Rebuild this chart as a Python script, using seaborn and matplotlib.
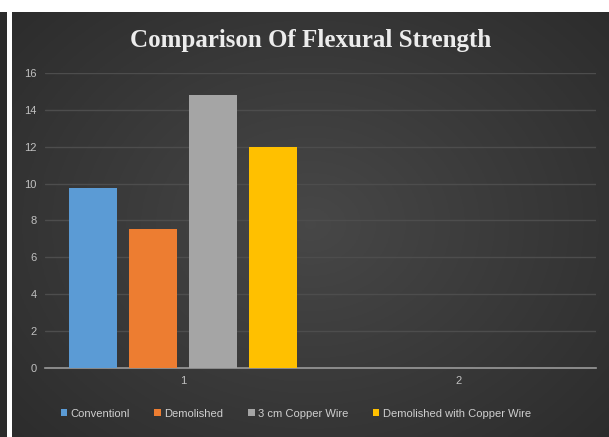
#!/usr/bin/env python3
"""Bar chart: comparison of flexural strength, dark Office-style theme."""

import numpy as np
import pandas as pd
import matplotlib
matplotlib.use("Agg")
import matplotlib.pyplot as plt
from matplotlib.patches import Rectangle
import seaborn as sns

# Data
groups = ["1", "2"]
series = ["Conventionl", "Demolished", "3 cm Copper Wire", "Demolished with Copper Wire"]
values_g1 = [9.75, 7.55, 14.8, 12.0]
values_g2 = [np.nan, np.nan, np.nan, np.nan]
colors = ["#5B9BD5", "#ED7D31", "#A5A5A5", "#FFC000"]
y_ticks = [0, 2, 4, 6, 8, 10, 12, 14, 16]

df = pd.DataFrame({
    "Group": [groups[0]] * 4 + [groups[1]] * 4,
    "Series": series * 2,
    "Strength": values_g1 + values_g2,
})

sns.set_theme(style="dark")
plt.rcParams["font.family"] = ["Liberation Sans Narrow", "Liberation Sans", "DejaVu Sans"]

W, H = 609, 437
fig = plt.figure(figsize=(W / 100, H / 100), dpi=100, facecolor="white")

# frame pieces: white top band, dark strip on the left
fig.patches.append(Rectangle((0, 0), 7 / W, 1 - 12 / H, transform=fig.transFigure,
                             facecolor="#2b2b2b", edgecolor="none", zorder=0))

# dark gradient background of the chart
bg = fig.add_axes([12 / W, 0, (W - 12) / W, (H - 12) / H], zorder=0)
xx, yy = np.meshgrid(np.linspace(-1, 1, 300), np.linspace(-1, 1, 220))
r = np.sqrt(xx ** 2 + (yy * 0.9) ** 2)
shade = 0.28 - 0.11 * np.clip(r, 0, 1.4) / 1.4
bg.imshow(np.dstack([shade] * 3), aspect="auto", extent=(0, 1, 0, 1))
bg.set_axis_off()

ax = fig.add_axes([45 / W, 1 - 368 / H, 551 / W, 295 / H], zorder=1)
ax.patch.set_alpha(0)

sns.barplot(data=df, x="Group", y="Strength", hue="Series", order=groups,
            hue_order=series, palette=colors, width=0.87, gap=0.2,
            errorbar=None, saturation=1, linewidth=0, edgecolor="none",
            ax=ax, zorder=3)

ax.set_ylim(0, 16)
ax.set_yticks(y_ticks)
ax.set_xlim(-0.5, 1.5)
ax.set_xlabel("")
ax.set_ylabel("")
ax.grid(axis="y", color="#4d4d4d", linewidth=1)
ax.grid(axis="x", visible=False)
for side in ["top", "right", "left"]:
    ax.spines[side].set_visible(False)
ax.spines["bottom"].set_color("#9a9a9a")
ax.spines["bottom"].set_linewidth(1.2)
ax.tick_params(axis="both", colors="#c0c0c0", labelsize=8, length=0, pad=6)

ax.legend(loc="center", bbox_to_anchor=(0.455, -0.155), ncol=4, frameon=False,
          fontsize=8, labelcolor="#cfcfcf", handlelength=0.6, handleheight=0.6,
          handletextpad=0.3, columnspacing=2.2)

fig.text(0.51, 1 - 40 / H, "Comparison Of Flexural Strength", ha="center", va="center",
         fontsize=18, fontweight="bold", color="#ececec", family="Liberation Serif")

fig.savefig("out.png", dpi=100, facecolor="white")
